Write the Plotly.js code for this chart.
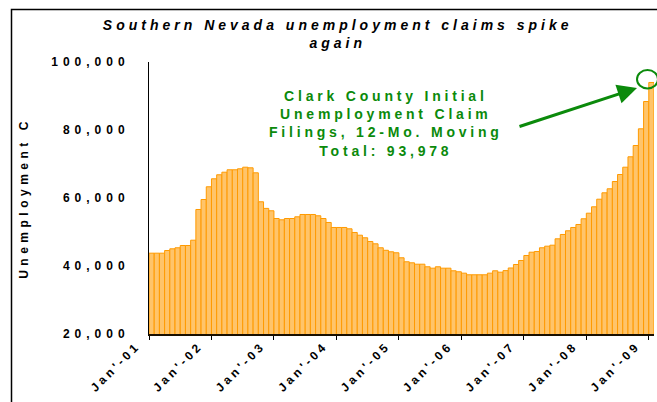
<!DOCTYPE html>
<html>
<head>
<meta charset="utf-8">
<script src="https://cdn.plot.ly/plotly-3.0.1.min.js"></script>
<style>
  html, body { margin: 0; padding: 0; background: #fff; }
  #chart { width: 657px; height: 402px; }
  text.gtitle { letter-spacing: 4px; }
  .ytick text { letter-spacing: 5px; }
  .xtick text { letter-spacing: 3.4px; }
  text.ytitle { letter-spacing: 4.5px; }
  .annotation-text { letter-spacing: 3.8px; }
</style>
</head>
<body>
<div id="chart"></div>
<script>
// Clark County initial unemployment claim filings, 12-month moving total (monthly, Jan-01 .. Jan-09)
const claims = [
  43770, 43770, 43770, 44560, 45060, 45360, 46030, 46030, 47590, 56620, 59560, 63300,
  65650, 66830, 67590, 68300, 68300, 68590, 69060, 68880, 67410, 58890, 56940, 56240,
  53970, 53590, 53970, 53970, 54470, 55150, 55150, 55150, 54770, 53970, 52800, 51330,
  51330, 51330, 50940, 49860, 49060, 48300, 47210, 46530, 45360, 44620, 44180, 43890,
  42420, 41240, 40940, 40530, 40530, 39770, 39360, 39770, 39360, 39360, 38590, 38300,
  37890, 37420, 37420, 37420, 37420, 37890, 38590, 38180, 38640, 39420, 40440, 41620,
  43090, 44060, 44270, 45360, 45830, 46120, 48000, 49270, 50360, 51330, 52210, 53890,
  55530, 57410, 59650, 61530, 62710, 64850, 66910, 69060, 72120, 75440, 80350, 88380,
  93978
];
const tickLabels = ["Jan'-01", "Jan'-02", "Jan'-03", "Jan'-04", "Jan'-05", "Jan'-06", "Jan'-07", "Jan'-08", "Jan'-09"];
const yTickVals = [20000, 40000, 60000, 80000, 100000];
const yTickText = ["20,000", "40,000", "60,000", "80,000", "100,000"];
const titleText = "Southern Nevada unemployment claims spike<br>again";
const yTitle = "Unemployment C";
const noteText = "Clark County Initial<br>Unemployment Claim<br>Filings, 12-Mo. Moving<br>Total: 93,978";

const xs = claims.map((_, i) => i + 0.5);
const tickVals = tickLabels.map((_, i) => i * 12);

const green = '#0B8A0B';
const font = 'Liberation Sans, Arial, sans-serif';

const trace = {
  type: 'bar',
  x: xs,
  y: claims,
  width: 1,
  marker: { color: '#FFC46A', line: { color: '#FF9A00', width: 1 } },
  hoverinfo: 'skip'
};

const layout = {
  width: 657, height: 402,
  margin: { l: 149, r: 3, t: 62, b: 68, pad: 0 },
  paper_bgcolor: '#fff', plot_bgcolor: '#fff',
  showlegend: false,
  bargap: 0,
  font: { family: font, color: '#000' },
  title: {
    text: titleText,
    font: { family: font, size: 14, weight: 'bold', style: 'italic', color: '#000' },
    x: 0.514, xanchor: 'center', xref: 'container',
    y: 0.925, yanchor: 'top', yref: 'container'
  },
  xaxis: {
    range: [0, 97], autorange: false,
    tickvals: tickVals, ticktext: tickLabels,
    tickangle: -45,
    ticks: 'outside', ticklen: 4, tickcolor: '#000', tickwidth: 1,
    ticklabelshift: -12, ticklabelstandoff: -6,
    tickfont: { family: font, size: 12, weight: 'bold', color: '#000' },
    showline: true, linecolor: '#1a1000', linewidth: 2,
    showgrid: false, zeroline: false, fixedrange: true
  },
  yaxis: {
    range: [20000, 100000], autorange: false,
    tickvals: yTickVals, ticktext: yTickText,
    ticks: '', ticklabelstandoff: 16,
    tickfont: { family: font, size: 12, weight: 'bold', color: '#000' },
    showline: true, linecolor: '#000', linewidth: 1,
    showgrid: false, zeroline: false, fixedrange: true,
    title: { text: yTitle, font: { family: font, size: 12, weight: 'bold', color: '#000' }, standoff: 20 }
  },
  shapes: [
    { type: 'rect', xref: 'paper', yref: 'paper',
      x0: (11.5 - 149) / 505, x1: 1.03, y0: -0.3, y1: (334 - 9.5) / 272,
      line: { color: '#000', width: 1.5 }, fillcolor: 'rgba(0,0,0,0)', layer: 'below' },
    { type: 'circle', xref: 'paper', yref: 'paper',
      x0: (637 - 149) / 505, x1: (658 - 149) / 505,
      y0: (334 - 88.5) / 272, y1: (334 - 70) / 272,
      line: { color: green, width: 2 } }
  ],
  annotations: [
    { xref: 'paper', yref: 'paper', x: (386 - 149) / 505, y: (334 - 123.5) / 272,
      text: noteText, showarrow: false, align: 'center',
      xanchor: 'center', yanchor: 'middle',
      font: { family: font, size: 14, weight: 'bold', color: green } },
    { xref: 'paper', yref: 'paper', x: (637 - 149) / 505, y: (334 - 88) / 272,
      text: '', showarrow: true, arrowhead: 2, arrowsize: 1.3, arrowwidth: 3,
      arrowcolor: green, ax: -119, ay: 39, standoff: 0 }
  ]
};

Plotly.newPlot('chart', [trace], layout, { displayModeBar: false, staticPlot: true });
</script>
</body>
</html>
